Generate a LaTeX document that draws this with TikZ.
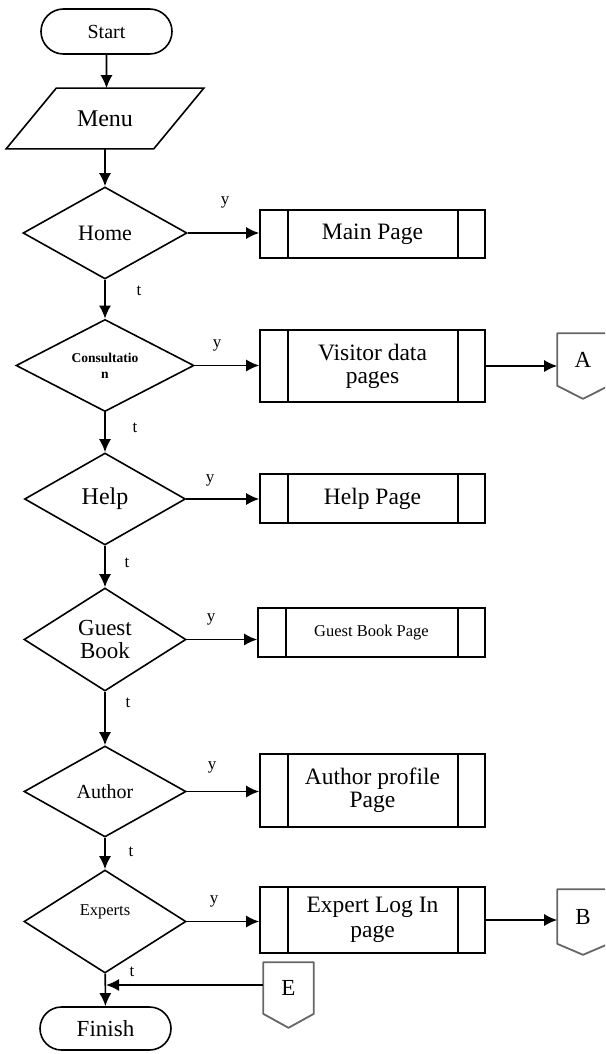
\documentclass[tikz,border=0pt]{standalone}
\usepackage{fontspec}
\setmainfont{Liberation Serif}
\usetikzlibrary{shapes.geometric,shapes.misc,arrows.meta}

\begin{document}
\begin{tikzpicture}[x=1pt,y=-1pt,line width=1.6pt,>={Latex[length=13pt,width=12pt]},
  term/.style={draw,rounded rectangle,minimum width=131pt,minimum height=45pt,inner sep=0pt,font=\fontsize{20}{20}\selectfont},
  decide/.style={draw,diamond,inner sep=0pt,align=center},
  proc/.style={draw,rectangle,minimum width=225pt,inner sep=0pt,align=center,font=\fontsize{23.5}{23}\selectfont,
    path picture={\draw ([xshift=28pt]path picture bounding box.north west) -- ([xshift=28pt]path picture bounding box.south west);
      \draw ([xshift=-27pt]path picture bounding box.north east) -- ([xshift=-27pt]path picture bounding box.south east);}},
  offpage/.style={minimum width=50pt,minimum height=51pt,inner sep=0pt,font=\fontsize{23}{23}\selectfont},
  offline/.style={draw=black!60,line width=1.8pt,line join=round},
  lbl/.style={inner sep=0pt,font=\fontsize{17}{17}\selectfont}]
\path[use as bounding box] (0,0) rectangle (605,1054);
\clip (0,0) rectangle (605,1054);
\node[term] (start) at (106.5,31.5) {Start};
\node[minimum width=146pt,minimum height=59pt,inner sep=0pt,font=\fontsize{24}{24}\selectfont] (menu) at (105,118.5) {Menu};
\draw ([xshift=25pt]menu.north west) -- ([xshift=25pt]menu.north east) -- ([xshift=-25pt]menu.south east) -- ([xshift=-25pt]menu.south west) -- cycle;
\node[decide,minimum width=164pt,minimum height=92pt,font=\fontsize{22}{22}\selectfont] (home) at (105,233) {Home};
\node[decide,minimum width=178pt,minimum height=91pt,font=\fontsize{13.5}{16}\selectfont\bfseries] (consult) at (105,365.5) {Consultatio\\ n};
\node[decide,minimum width=161pt,minimum height=92pt,font=\fontsize{24}{24}\selectfont] (help) at (105,499) {Help};
\node[decide,minimum width=162pt,minimum height=103pt,font=\fontsize{23}{23}\selectfont] (guest) at (105,639.5) {Guest\\ Book};
\node[decide,minimum width=162pt,minimum height=91pt,font=\fontsize{20}{20}\selectfont] (author) at (105,791.5) {Author};
\node[decide,minimum width=162pt,minimum height=103pt,font=\fontsize{16.5}{16.5}\selectfont] (experts) at (105,921.5) {Experts\\[6pt]};
\node[term,minimum height=43pt,font=\fontsize{23}{23}\selectfont] (finish) at (105.5,1028.5) {Finish};
\node[proc,minimum height=48pt] (main) at (372.5,234) {Main Page};
\node[proc,minimum height=72pt] (visitor) at (372.5,366) {Visitor data\\ pages};
\node[proc,minimum height=49pt] (helppage) at (372.5,498.5) {Help Page};
\node[proc,minimum width=227pt,minimum height=49pt,font=\fontsize{16.5}{16.5}\selectfont] (guestpage) at (371.5,632.5) {Guest Book Page};
\node[proc,minimum height=73pt] (profile) at (372.5,790.5) {Author profile\\ Page};
\node[proc,minimum height=66pt,font=\fontsize{23.5}{25}\selectfont] (login) at (372.5,920) {Expert Log In\\ page};
\node[offpage] (conA) at (583,359.5) {A};
\draw[offline] (conA.north west) -- (conA.north east) -- (conA.south east) -- ([yshift=-13pt]conA.south) -- (conA.south west) -- cycle;
\node[offpage,minimum height=53pt] (conB) at (583,916.5) {B};
\draw[offline] (conB.north west) -- (conB.north east) -- (conB.south east) -- ([yshift=-11pt]conB.south) -- (conB.south west) -- cycle;
\node[offpage,minimum width=49pt,minimum height=50pt] (conE) at (288.5,988) {E};
\draw[offline] (conE.north west) -- (conE.north east) -- (conE.south east) -- ([yshift=-14pt]conE.south) -- (conE.south west) -- cycle;
\node[lbl] (yhome) at (225,202) {y};
\node[lbl] (ycons) at (217,345) {y};
\node[lbl] (yhelp) at (210,480) {y};
\node[lbl] (yguest) at (211,619) {y};
\node[lbl] (yauthor) at (212,767) {y};
\node[lbl] (yexperts) at (214,901) {y};
\node[lbl] (thome) at (139,291) {t};
\node[lbl] (tcons) at (135,428) {t};
\node[lbl] (thelp) at (127,563) {t};
\node[lbl] (tguest) at (128,703) {t};
\node[lbl] (tauthor) at (131,852) {t};
\node[lbl] (texperts) at (132,972) {t};
\draw[->] (start) -- (start.south |- menu.north);
\draw[->] (menu) -- (home);
\draw[->] (home) -- (consult);
\draw[->] (consult) -- (help);
\draw[->] (help) -- (guest);
\draw[->] (guest) -- (author);
\draw[->] (author) -- (experts);
\draw[->] (experts) -- (finish);
\draw[->] (home.east) -- (home.east -| main.west);
\draw[->] (consult.east) -- (consult.east -| visitor.west);
\draw[->] (help.east) -- (help.east -| helppage.west);
\draw[->] (guest.east) -- (guest.east -| guestpage.west);
\draw[->] (author.east) -- (author.east -| profile.west);
\draw[->] (experts.east) -- (experts.east -| login.west);
\draw[->] (visitor.east) -- (visitor.east -| conA.west);
\draw[->] (login.east) -- (login.east -| conB.west);
\draw[->] ([yshift=3pt]conE.west) -- ([yshift=3pt,xshift=1pt]conE.west -| experts.south);
\end{tikzpicture}
\end{document}
